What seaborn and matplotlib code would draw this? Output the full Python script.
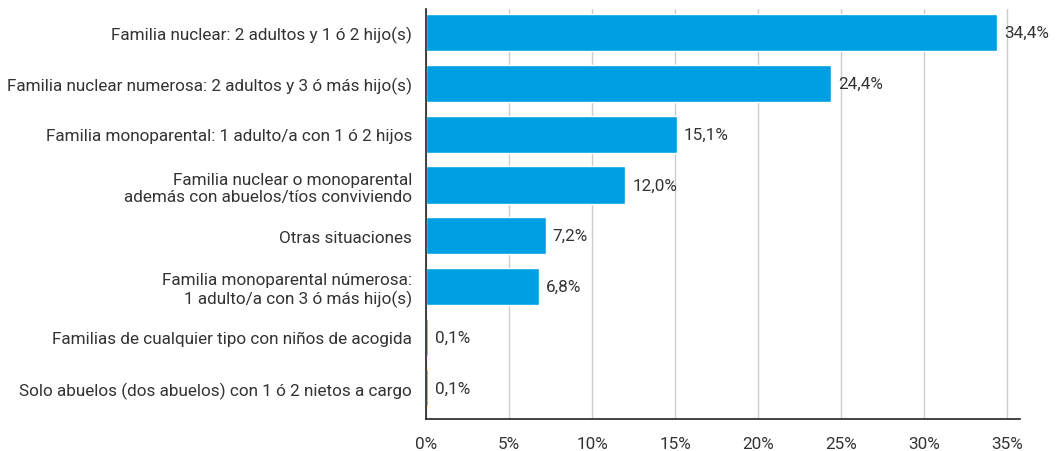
import matplotlib
matplotlib.use('Agg')
import matplotlib.pyplot as plt
import seaborn as sns
import pandas as pd
from matplotlib.ticker import FuncFormatter

categorias = [
    'Familia nuclear: 2 adultos y 1 ó 2 hijo(s)',
    'Familia nuclear numerosa: 2 adultos y 3 ó más hijo(s)',
    'Familia monoparental: 1 adulto/a con 1 ó 2 hijos',
    'Familia nuclear o monoparental\nademás con abuelos/tíos conviviendo',
    'Otras situaciones',
    'Familia monoparental númerosa:\n1 adulto/a con 3 ó más hijo(s)',
    'Familias de cualquier tipo con niños de acogida',
    'Solo abuelos (dos abuelos) con 1 ó 2 nietos a cargo',
]
porcentajes = [34.4, 24.4, 15.1, 12.0, 7.2, 6.8, 0.1, 0.1]
ticks_x = [0, 5, 10, 15, 20, 25, 30, 35]

df = pd.DataFrame({'categoria': categorias, 'valor': porcentajes})

sns.set_style('white')
plt.rcParams['font.family'] = ['Roboto', 'DejaVu Sans']

fig, ax = plt.subplots(figsize=(10.6, 4.52), dpi=100)
fig.subplots_adjust(left=0.402, right=0.962, top=0.978, bottom=0.071)

sns.barplot(data=df, x='valor', y='categoria', color='#009FE3', saturation=1,
            width=0.73, ax=ax, zorder=3)

# etiquetas de valor a la derecha de cada barra
for i, v in enumerate(porcentajes):
    ax.annotate(f'{v:.1f}%'.replace('.', ','), xy=(v, i), xytext=(5, 0),
                textcoords='offset points', va='center', ha='left',
                fontsize=12.3, color='#333333')

ax.set_xlim(0, 35.75)
ax.set_ylim(7.61, -0.47)
ax.set_xticks(ticks_x)
ax.xaxis.set_major_formatter(FuncFormatter(lambda x, p: f'{x:.0f}%'))
ax.grid(axis='x', color='#cccccc', linewidth=1, zorder=0)
ax.set_xlabel('')
ax.set_ylabel('')
ax.tick_params(axis='both', length=0, labelsize=12.3, colors='#333333')
ax.tick_params(axis='x', pad=12)
ax.tick_params(axis='y', pad=10)
for s in ['top', 'right']:
    ax.spines[s].set_visible(False)
for s in ['left', 'bottom']:
    ax.spines[s].set_color('#222222')
    ax.spines[s].set_linewidth(1.2)
    ax.spines[s].set_zorder(4)

fig.savefig('out.png', dpi=100)
